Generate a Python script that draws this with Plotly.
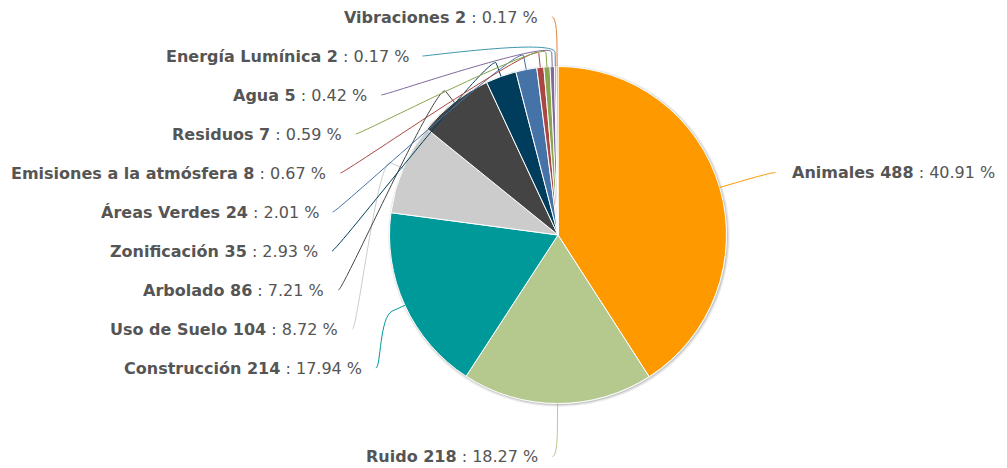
import math
import plotly.graph_objects as go

# ---- data ----
categories = ["Animales", "Ruido", "Construcción", "Uso de Suelo", "Arbolado",
              "Zonificación", "Áreas Verdes", "Emisiones a la atmósfera",
              "Residuos", "Agua", "Energía Lumínica", "Vibraciones"]
counts = [488, 218, 214, 104, 86, 35, 24, 8, 7, 5, 2, 2]
colors = ["#FF9900", "#B5C98E", "#009999", "#CCCCCC", "#444444", "#003D5C",
          "#4572A7", "#AA4643", "#89A54E", "#80699B", "#3D96AE", "#DB843D"]

# ---- layout constants (page pixel coordinates) ----
PW, PH = 1007, 468       # page size
M = 8                    # browser body margin
W, H = PW - M, PH - M    # figure size
CX, CY, R = 558, 235, 168.5
RL = R + 53          # label radius
OFF = 14             # connector break offset outside pie
TOP, BOTTOM, SP = 17, 457, 39
FONT = "DejaVu Sans"
TXT = "#555555"

total = sum(counts)
pcts = [c / total * 100 for c in counts]

# mid angles (deg, clockwise from 12 o'clock)
mids = []
acc = 0.0
for c in counts:
    mids.append((acc + c / 2) / total * 360)
    acc += c


def pt(theta, rho):
    t = math.radians(theta)
    return CX + rho * math.sin(t), CY - rho * math.cos(t)


def getx(y, left):
    d = max(RL ** 2 - (y - CY) ** 2, 0)
    return CX - math.sqrt(d) if left else CX + math.sqrt(d)


left = [i for i, m in enumerate(mids) if m > 180]
right = [i for i, m in enumerate(mids) if m <= 180]
left.sort(key=lambda i: -mids[i])
right.sort(key=lambda i: mids[i])

pos = {}
for group, is_left in ((left, True), (right, False)):
    prev = None
    n = len(group)
    for k, i in enumerate(group):
        ynat = pt(mids[i], RL)[1]
        y = max(ynat, TOP) if prev is None else max(ynat, prev + SP)
        y = min(y, BOTTOM)
        prev = y
        if k == 0 or k == n - 1:
            x = getx(min(max(ynat, CY - RL), CY + RL), is_left)
        else:
            x = getx(y, is_left)
        pos[i] = (x, y, is_left)

fig = go.Figure()

# pie shadow
shapes = []
for w, op in ((5, 0.05), (3, 0.08), (1, 0.12)):
    shapes.append(dict(type="circle", xref="x", yref="y", layer="below",
                       x0=CX - R + 1, x1=CX + R + 1, y0=CY - R + 1, y1=CY + R + 1,
                       line=dict(color=f"rgba(0,0,0,{op})", width=w)))

annotations = []
for i in range(len(counts)):
    x, y, is_left = pos[i]
    s = -1 if is_left else 1
    tx, ty = pt(mids[i], R)
    bx, by = pt(mids[i], R + OFF)
    cx2, cy2 = 2 * bx - tx, 2 * by - ty
    path = (f"M {x + s * 5:.2f},{y:.2f} C {x:.2f},{y:.2f} {cx2:.2f},{cy2:.2f} "
            f"{bx:.2f},{by:.2f} L {tx:.2f},{ty:.2f}")
    shapes.append(dict(type="path", xref="x", yref="y", path=path, layer="above",
                       line=dict(color=colors[i], width=1)))
    text = f"<b>{categories[i]} {counts[i]}</b> : {pcts[i]:.2f} %"
    annotations.append(dict(
        xref="x", yref="y", x=x + s * (5 + (12 if is_left else 14)), y=y,
        text=text, showarrow=False,
        xanchor="right" if is_left else "left", yanchor="middle",
        font=dict(family=FONT, size=16, color=TXT)))

fig.add_trace(go.Pie(
    values=counts, labels=categories, sort=False, direction="clockwise",
    rotation=0, textinfo="none", showlegend=False, hoverinfo="label+value+percent",
    marker=dict(colors=colors, line=dict(color="white", width=1)),
    domain=dict(x=[(CX - R - M) / W, (CX + R - M) / W],
                y=[(PH - CY - R) / H, (PH - CY + R) / H])))

fig.update_layout(
    width=W, height=H, margin=dict(l=0, r=0, t=0, b=0),
    paper_bgcolor="white", plot_bgcolor="white",
    xaxis=dict(range=[M, PW], visible=False, fixedrange=True),
    yaxis=dict(range=[PH, M], visible=False, fixedrange=True),
    shapes=shapes, annotations=annotations)

fig.write_html("out.html", config={"displayModeBar": False})
